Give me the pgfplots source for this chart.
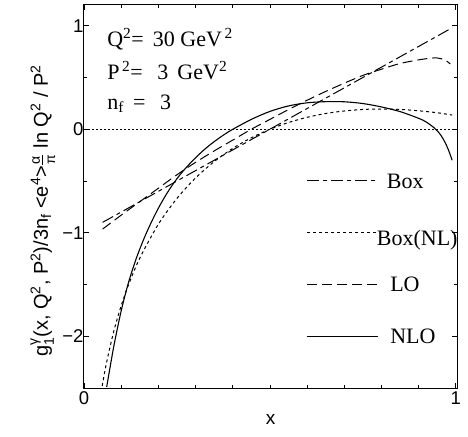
\documentclass[border=0pt]{standalone}
\usepackage{pgfplots}
\pgfplotsset{compat=1.18}
\usepackage{amsmath}
\usepackage{fontspec}
\setmainfont{Liberation Serif}
\setsansfont{Liberation Sans}
\begin{document}
\begin{tikzpicture}
\begin{axis}[
  scale only axis, width=373pt, height=383pt,
  xmin=0, xmax=1.003, ymin=-2.5, ymax=1.2,
  xtick={0,1}, xticklabels={0,1},
  minor xtick={0.1,0.2,0.3,0.4,0.5,0.6,0.7,0.8,0.9},
  ytick={-2,-1,0,1}, yticklabels={−2,−1,0,1},
  minor ytick={-1.5,-0.5,0.5},
  tick align=inside, major tick length=5pt, minor tick length=3pt,
  tick style={black, line width=0.8pt},
  axis line style={line width=1pt},
  ticklabel style={font=\sffamily\fontsize{18.5}{20}\selectfont},
  yticklabel style={xshift=3pt},
  xlabel={\sffamily\fontsize{19}{22}\selectfont x},
  xlabel style={yshift=-3pt},
  clip=true,
]
% zero line
\addplot[black, line width=0.8pt, dash pattern=on 2pt off 2pt] coordinates {(0,0) (1.003,0)};
% Box (dash-dot)
\addplot[black, line width=1pt, dash pattern=on 12pt off 4pt on 4pt off 4pt] coordinates {
(0.05,-0.90) (0.3,-0.40) (0.6,0.20) (0.99,0.98)};
% LO (dashed)
\addplot[black, line width=1pt, dash pattern=on 10pt off 5pt, smooth] coordinates {
(0.05,-0.965) (0.10,-0.83) (0.15,-0.70) (0.20,-0.57) (0.25,-0.44) (0.30,-0.32)
(0.35,-0.21) (0.40,-0.105) (0.45,0.0) (0.50,0.095) (0.55,0.19) (0.60,0.28)
(0.65,0.365) (0.70,0.445) (0.75,0.52) (0.80,0.58) (0.85,0.635) (0.90,0.67)
(0.93,0.685) (0.95,0.688) (0.97,0.67) (0.985,0.63)};
% Box(NL) (dotted)
\addplot[black, line width=1pt, dash pattern=on 3pt off 3pt, smooth] coordinates {
(0.049,-2.48) (0.06,-2.266) (0.08,-1.953) (0.10,-1.705) (0.12,-1.500) (0.15,-1.245)
(0.20,-0.918) (0.25,-0.668) (0.30,-0.471) (0.35,-0.313) (0.40,-0.185) (0.45,-0.083)
(0.50,0.0) (0.55,0.065) (0.60,0.115) (0.65,0.152) (0.70,0.176) (0.75,0.191)
(0.80,0.195) (0.85,0.191) (0.90,0.178) (0.95,0.159) (0.99,0.137)};
% NLO (solid)
\addplot[black, line width=1.1pt, smooth] coordinates {
(0.061,-2.49) (0.08,-2.10) (0.10,-1.755) (0.12,-1.477) (0.14,-1.254) (0.16,-1.068)
(0.18,-0.906) (0.20,-0.763) (0.22,-0.637) (0.24,-0.527) (0.26,-0.432) (0.28,-0.35)
(0.30,-0.276) (0.32,-0.208) (0.34,-0.148) (0.36,-0.094) (0.38,-0.045) (0.40,-0.001)
(0.45,0.095) (0.50,0.172) (0.55,0.225) (0.60,0.255) (0.65,0.266) (0.70,0.265)
(0.75,0.248) (0.80,0.215) (0.85,0.17) (0.90,0.105) (0.92,0.07) (0.944,0.006)
(0.96,-0.06) (0.971,-0.129) (0.98,-0.2) (0.99,-0.30)};
% legend samples
\addplot[black, line width=1pt, dash pattern=on 12pt off 4pt on 4pt off 4pt] coordinates {(0.60,-0.5) (0.785,-0.5)};
\addplot[black, line width=1pt, dash pattern=on 3pt off 3pt] coordinates {(0.60,-1.0) (0.785,-1.0)};
\addplot[black, line width=1pt, dash pattern=on 10pt off 5pt] coordinates {(0.60,-1.5) (0.79,-1.5)};
\addplot[black, line width=1.1pt] coordinates {(0.60,-2.0) (0.79,-2.0)};
\node[anchor=west, inner sep=0pt, font=\fontsize{22}{26}\selectfont] at (axis cs:0.814,-0.5) {Box};
\node[anchor=west, inner sep=0pt, font=\fontsize{22}{26}\selectfont] at (axis cs:0.787,-1.07) {Box(NL)};
\node[anchor=west, inner sep=0pt, font=\fontsize{22}{26}\selectfont] at (axis cs:0.823,-1.5) {LO};
\node[anchor=west, inner sep=0pt, font=\fontsize{22}{26}\selectfont] at (axis cs:0.823,-2.0) {NLO};
% parameters
\node[anchor=base west, inner sep=0pt, font=\fontsize{22}{26}\selectfont] at (axis cs:0.062,0.80) {Q\textsuperscript{2}= \,30 GeV\textsuperscript{\,2}};
\node[anchor=base west, inner sep=0pt, font=\fontsize{22}{26}\selectfont] at (axis cs:0.062,0.483) {P\textsuperscript{\,2}= \ \,3 \,GeV\textsuperscript{2}};
\node[anchor=base west, inner sep=0pt, font=\fontsize{22}{26}\selectfont] at (axis cs:0.062,0.193) {n\textsubscript{f} \,= \ \,3};
\end{axis}
% y label
\node[rotate=90, anchor=base, inner sep=0pt, font=\sffamily\fontsize{20}{24}\selectfont]
  at ([xshift=-36pt]current axis.west |- 0,{383pt*0.462}) {g$^{\text{γ}}_{\text{1}}$(x, Q\textsuperscript{2}, P\textsuperscript{2})/3n\textsubscript{f} <e\textsuperscript{4}>$\frac{\text{α}}{\text{π}}$ ln Q\textsuperscript{2} / P\textsuperscript{2}};
% picture extent
\path ([shift={(-84pt,-48pt)}]current axis.south west) rectangle ([shift={(11pt,5pt)}]current axis.north east);
\end{tikzpicture}
\end{document}
